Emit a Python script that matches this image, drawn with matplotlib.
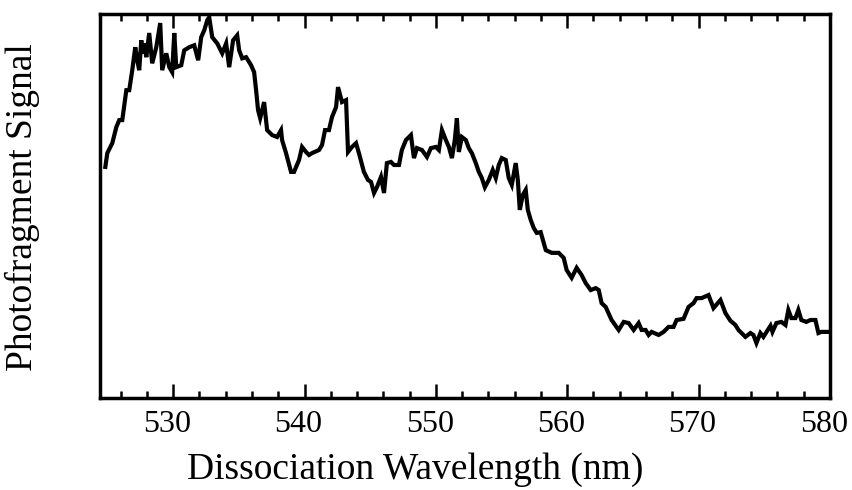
import matplotlib
matplotlib.use("Agg")
import matplotlib.pyplot as plt
import matplotlib.transforms as mtransforms
from matplotlib.ticker import MultipleLocator

# wavelength (nm) and photofragment signal (arb. units, 0-100)
wavelength = [
    524.83, 524.98, 525.36, 525.67, 525.89, 526.12, 526.43, 526.65, 526.88, 527.11,
    527.26, 527.41, 527.57, 527.64, 527.79, 527.95, 528.17, 528.40, 528.71, 529.01,
    529.16, 529.47, 529.70, 529.92, 530.08, 530.23, 530.61, 530.84, 531.22, 531.60,
    531.90, 532.13, 532.36, 532.59, 532.74, 532.97, 533.35, 533.73, 534.03, 534.26,
    534.56, 534.87, 535.02, 535.25, 535.55, 535.93, 536.16, 536.31, 536.46, 536.62,
    536.92, 537.15, 537.53, 537.91, 538.21, 538.29, 538.59, 538.97, 539.20, 539.58,
    539.81, 540.11, 540.34, 540.57, 541.10, 541.33, 541.56, 541.86, 542.09, 542.40,
    542.55, 542.85, 543.16, 543.31, 543.61, 543.92, 544.14, 544.52, 544.83, 545.06,
    545.29, 545.51, 545.82, 546.05, 546.27, 546.58, 546.81, 547.19, 547.41, 547.72,
    548.10, 548.33, 548.56, 548.94, 549.32, 549.62, 550.00, 550.23, 550.46, 550.76,
    550.99, 551.22, 551.44, 551.60, 551.75, 551.98, 552.28, 552.51, 552.74, 553.04,
    553.27, 553.50, 553.73, 554.03, 554.33, 554.56, 554.79, 555.02, 555.32, 555.55,
    555.78, 556.08, 556.24, 556.39, 556.62, 556.84, 557.00, 557.22, 557.45, 557.68,
    557.98, 558.21, 558.37, 558.82, 559.35, 559.73, 559.96, 560.34, 560.72, 561.10,
    561.41, 561.79, 562.17, 562.40, 562.62, 562.93, 563.38, 563.92, 564.30, 564.68,
    565.06, 565.44, 565.67, 565.97, 566.20, 566.43, 566.96, 567.34, 567.72, 568.10,
    568.33, 568.86, 569.24, 569.62, 569.85, 570.23, 570.76, 571.14, 571.67, 572.05,
    572.43, 572.81, 573.04, 573.57, 573.95, 574.18, 574.41, 574.71, 574.94, 575.48,
    575.63, 575.93, 576.31, 576.62, 576.84, 577.07, 577.38, 577.60, 577.83, 578.21,
    578.52, 578.90, 579.13, 579.35, 579.90,
]
signal = [
    60.2, 63.8, 66.4, 70.6, 72.4, 72.4, 80.2, 80.2, 85.4, 91.4,
    88.0, 85.4, 93.2, 89.8, 92.4, 88.8, 95.1, 87.2, 91.4, 97.7,
    85.4, 89.8, 86.2, 84.9, 95.1, 86.2, 86.7, 90.6, 91.4, 91.9,
    88.0, 94.0, 95.8, 98.4, 99.2, 94.0, 92.4, 89.8, 92.4, 86.2,
    93.2, 94.5, 90.6, 88.5, 88.8, 86.7, 84.9, 80.2, 75.0, 72.9,
    77.1, 69.8, 68.5, 68.0, 69.8, 67.2, 63.8, 58.9, 58.9, 62.0,
    65.4, 64.1, 63.3, 63.8, 64.6, 65.9, 69.8, 69.8, 73.2, 75.8,
    81.0, 77.1, 77.6, 64.1, 65.4, 66.4, 63.8, 58.9, 56.8, 56.3,
    53.4, 54.9, 57.6, 53.4, 61.2, 61.5, 60.7, 60.7, 64.6, 67.2,
    68.5, 62.5, 65.1, 64.6, 62.8, 65.1, 65.4, 64.6, 69.8, 67.2,
    65.4, 62.5, 67.2, 72.9, 64.1, 68.0, 67.2, 65.1, 63.8, 61.2,
    58.9, 57.3, 54.9, 56.8, 59.4, 57.3, 60.7, 62.5, 62.0, 57.3,
    55.5, 61.2, 56.8, 49.0, 52.9, 54.2, 49.0, 46.4, 44.3, 43.0,
    43.2, 40.4, 38.5, 37.8, 37.8, 36.5, 33.3, 31.3, 33.9, 32.0,
    29.9, 28.1, 28.6, 28.1, 24.7, 23.7, 20.3, 17.7, 19.8, 19.5,
    17.7, 19.5, 17.7, 17.7, 16.4, 17.2, 16.4, 17.2, 18.5, 18.5,
    20.3, 20.6, 23.7, 24.7, 26.0, 26.0, 26.8, 23.4, 25.5, 22.1,
    20.1, 19.0, 17.7, 15.9, 16.9, 16.4, 14.3, 16.9, 15.9, 18.8,
    17.2, 19.5, 19.8, 19.0, 22.9, 20.8, 20.8, 22.9, 20.3, 19.8,
    20.3, 20.3, 16.9, 17.2, 17.2,
]

plt.rcParams['font.family'] = ['Liberation Serif', 'DejaVu Serif']

fig = plt.figure(figsize=(8.52, 4.90), dpi=100)
ax = fig.add_axes([0.117, 0.188, 0.857, 0.783])

ax.plot(wavelength, signal, color='black', linewidth=3.0, solid_joinstyle='miter')

ax.set_xlim(524.4, 580)
ax.set_ylim(0, 100)

ax.xaxis.set_major_locator(MultipleLocator(10))
ax.xaxis.set_minor_locator(MultipleLocator(2))
ax.set_yticks([])
ax.tick_params(axis='x', which='both', direction='in', top=True, bottom=True,
               labelsize=23, pad=9, width=1.8)
ax.tick_params(axis='x', which='major', length=10)
ax.tick_params(axis='x', which='minor', length=5)

# the scanned labels sit a little left of their ticks
shift = mtransforms.ScaledTranslation(-6 / 100, 0, fig.dpi_scale_trans)
for lbl in ax.get_xticklabels():
    lbl.set_transform(lbl.get_transform() + shift)

for s in ax.spines.values():
    s.set_linewidth(2.5)

ax.set_xlabel("Dissociation Wavelength (nm)", fontsize=27)
ax.set_ylabel("Photofragment Signal", fontsize=27)
ax.xaxis.set_label_coords(0.432, -0.143)
ax.yaxis.set_label_coords(-0.082, 0.497)

fig.savefig("out.png", dpi=100)
